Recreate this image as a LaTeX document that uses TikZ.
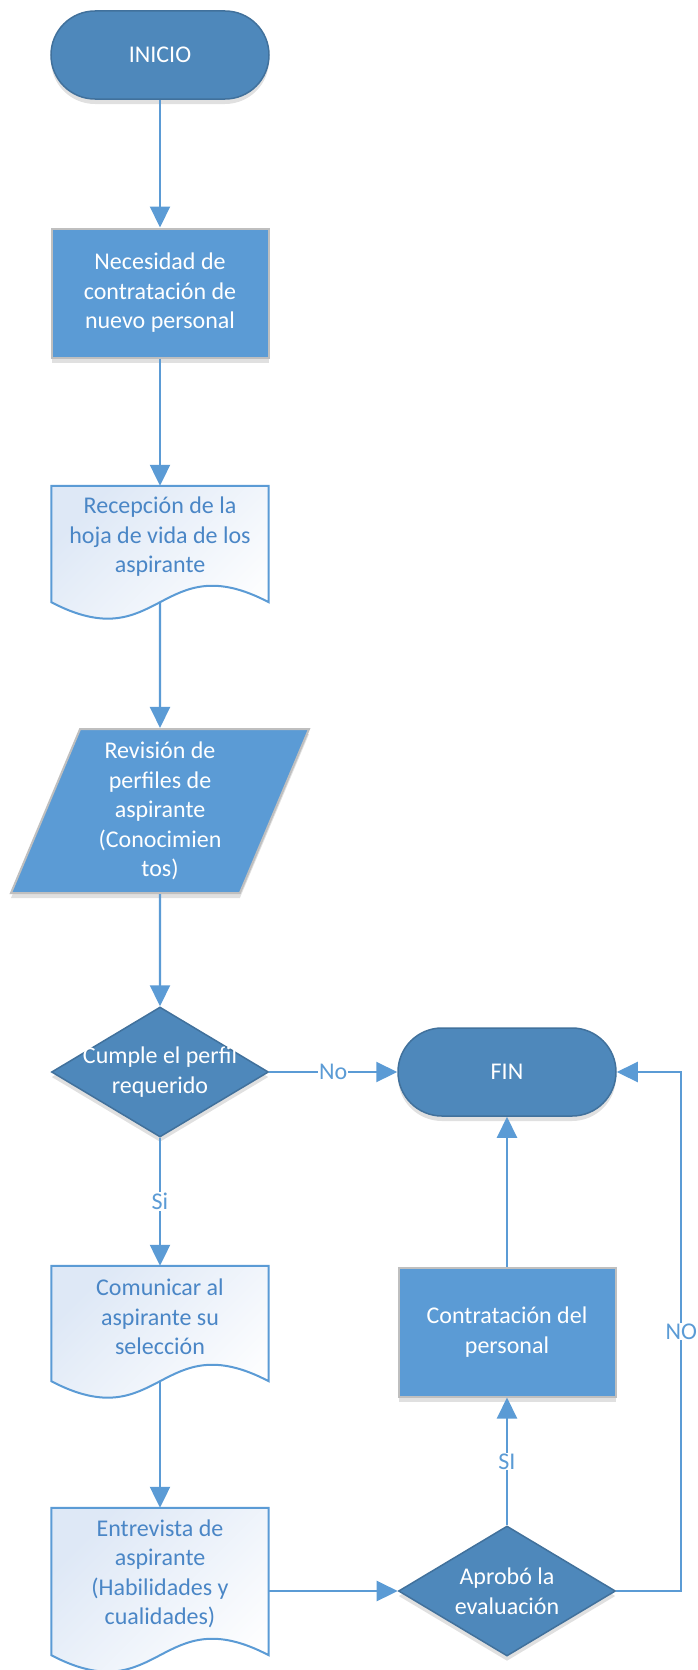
\documentclass[tikz,border=0pt]{standalone}
\usepackage{fontspec}
\setmainfont{Carlito}
\usetikzlibrary{shapes.geometric,arrows.meta,backgrounds,shadows}

\definecolor{azulosc}{RGB}{78,136,187}
\definecolor{bordeosc}{RGB}{65,113,156}
\definecolor{azul}{RGB}{91,155,213}
\definecolor{gris}{RGB}{191,191,191}
\definecolor{azultexto}{RGB}{74,134,198}
\definecolor{hojafondo}{RGB}{222,232,246}

\tikzset{
	sombra/.style={drop shadow={shadow xshift=0pt,shadow yshift=-5pt,opacity=.12,fill=black}},
	terminal/.style={rectangle,rounded corners=44pt,minimum width=218pt,minimum height=88pt,fill=azulosc,draw=bordeosc,line width=1.5pt,text=white,sombra},
	proceso/.style={rectangle,minimum width=217pt,minimum height=129pt,fill=azul,draw=gris,line width=2pt,text=white,align=center,sombra},
	datos/.style={trapezium,trapezium left angle=63.4,trapezium right angle=116.6,trapezium stretches body,minimum width=298pt,minimum height=164pt,inner sep=0pt,fill=azul,draw=gris,line width=2pt,text=white,align=center,sombra},
	decision/.style={diamond,minimum width=217pt,minimum height=130pt,inner sep=0pt,fill=azulosc,draw=bordeosc,line width=1.5pt,sombra},
	textodec/.style={text=white,align=center,inner sep=0pt},
	hoja/.style={rectangle,minimum width=217pt,inner sep=0pt,text=azultexto,align=center},
	borde/.style={draw=azul,line width=2pt,shading=axis,top color=hojafondo,bottom color=white,shading angle=45},
	flecha/.style={-{Triangle[length=21pt,width=20pt]},draw=azul,line width=2.2pt},
	etiqueta/.style={fill=white,text=azul,inner sep=1pt}
}

\begin{document}
\begin{tikzpicture}[x=1pt,y=-1pt,font=\fontsize{24}{29.5}\selectfont]

	\useasboundingbox (0,0) rectangle (697,1670);

	\node 	(ini)		at	(160,55) 	[terminal]{INICIO};

	\node 	(nec)		at	(160,293) 	[proceso]{Necesidad de\\contratación de\\nuevo personal};

	\node 	(rec)		at	(160,537) 	[hoja,minimum height=102pt]{Recepción de la\\hoja de vida de los\\aspirante};

	\node 	(rev)		at	(160,811) 	[datos]{Revisión de\\perfiles de\\aspirante\\(Conocimien\\tos)};

	\node 	(cum)		at	(160,1072) 	[decision]{};
	\node 	(cumt)		at	(cum) 		[textodec]{Cumple el perfil\\requerido};

	\node 	(fin)		at	(507,1072) 	[terminal]{FIN};

	\node 	(com)		at	(160,1317) 	[hoja,minimum height=102pt]{Comunicar al\\aspirante su\\selección};

	\node 	(con)		at	(507,1332) 	[proceso]{Contratación del\\personal};

	\node 	(ent)		at	(160,1574) 	[hoja,minimum height=132pt]{Entrevista de\\aspirante\\(Habilidades y\\cualidades)};

	\node 	(apr)		at	(507,1591) 	[decision]{};
	\node 	(aprt)		at	(apr) 		[textodec]{Aprobó la\\evaluación};


	\begin{scope}[on background layer]
	\draw[borde]	(rec.north west) -- (rec.north east) -- ([yshift=-14pt]rec.south east) .. controls ([yshift=43pt]rec.south) and ([yshift=-71pt]rec.south) .. ([yshift=-14pt]rec.south west) -- cycle;
	\draw[borde]	(com.north west) -- (com.north east) -- ([yshift=-13pt]com.south east) .. controls ([yshift=44pt]com.south) and ([yshift=-70pt]com.south) .. ([yshift=-13pt]com.south west) -- cycle;
	\draw[borde]	(ent.north west) -- (ent.north east) -- ([yshift=-15pt]ent.south east) .. controls ([yshift=42pt]ent.south) and ([yshift=-72pt]ent.south) .. ([yshift=-15pt]ent.south west) -- cycle;
	\end{scope}

	\coordinate	(rec-w)	at	([yshift=-14pt]rec.south);
	\coordinate	(com-w)	at	([yshift=-13pt]com.south);

	\draw[flecha]	(ini)	to	(nec);
	\draw[flecha]	(nec)	to	(rec);
	\draw[flecha]	(rec-w)	to	(rev);
	\draw[flecha]	(rev)	to	(cum);
	\draw[flecha]	(cum)	to	node[etiqueta]{No}	(fin);
	\draw[flecha]	(cum)	to	node[etiqueta]{Si}	(com);
	\draw[flecha]	(com-w)	to	(ent);
	\draw[flecha]	(ent.east |- apr)	to	(apr);
	\draw[flecha]	(apr)	to	node[etiqueta]{SI}	(con);
	\draw[flecha]	(con)	to	(fin);
	\draw[flecha]	(apr.east) -- ++(65,0) |- node[pos=.25,etiqueta]{NO} (fin.east);

\end{tikzpicture}
\end{document}
